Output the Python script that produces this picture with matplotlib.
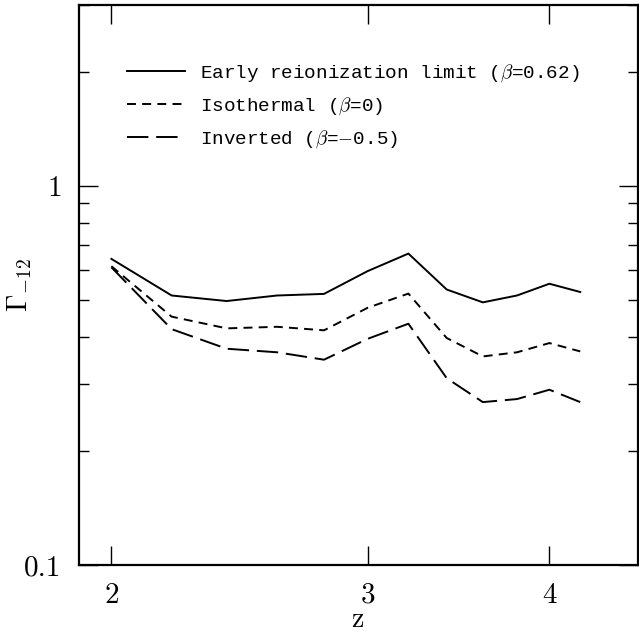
import matplotlib
matplotlib.use("Agg")
import matplotlib.pyplot as plt
from matplotlib.ticker import FixedLocator, NullFormatter, NullLocator

plt.rcParams['font.family'] = 'serif'
plt.rcParams['font.serif'] = ['cmr10', 'DejaVu Serif']
plt.rcParams['mathtext.fontset'] = 'cm'
plt.rcParams['axes.unicode_minus'] = False

# redshift grid and photoionization rates
z = [2.0, 2.2, 2.4, 2.6, 2.8, 3.0, 3.2, 3.4, 3.6, 3.8, 4.0, 4.2]
gamma_early = [0.642, 0.514, 0.497, 0.514, 0.519, 0.596, 0.663, 0.533, 0.493, 0.514, 0.552, 0.525]
gamma_iso = [0.614, 0.452, 0.421, 0.425, 0.416, 0.477, 0.520, 0.397, 0.355, 0.364, 0.385, 0.366]
gamma_inv = [0.610, 0.419, 0.372, 0.364, 0.348, 0.395, 0.433, 0.311, 0.269, 0.274, 0.290, 0.269]

labels = [r"Early reionization limit ($\beta$=0.62)",
          r"Isothermal ($\beta$=0)",
          r"Inverted ($\beta$=$-$0.5)"]

x_ticks = [2, 3, 4]
y_major = [0.1, 1]
y_minor = [0.2, 0.3, 0.4, 0.5, 0.6, 0.7, 0.8, 0.9, 2, 3]

fig = plt.figure(figsize=(6.39, 6.32), dpi=100)
ax = fig.add_axes([0.1236, 0.106, 0.8744, 0.886])

lw = 1.4
ax.plot(z, gamma_early, color='black', lw=lw, label=labels[0])
ax.plot(z, gamma_iso, color='black', lw=lw, linestyle=(0, (4.6, 3.2)), label=labels[1])
ax.plot(z, gamma_inv, color='black', lw=lw, linestyle=(0, (11, 4)), label=labels[2])

ax.set_xscale('log')
ax.set_yscale('log')
ax.set_xlim(1.9, 4.6)
ax.set_ylim(0.1, 3.0)

ax.xaxis.set_major_locator(FixedLocator(x_ticks))
ax.xaxis.set_minor_locator(NullLocator())
ax.set_xticklabels([str(t) for t in x_ticks])
ax.xaxis.set_minor_formatter(NullFormatter())

ax.yaxis.set_major_locator(FixedLocator(y_major))
ax.yaxis.set_minor_locator(FixedLocator(y_minor))
ax.set_yticklabels(['0.1', '1'])
ax.yaxis.set_minor_formatter(NullFormatter())

ax.tick_params(which='both', direction='in', top=True, right=True, width=1.0, labelsize=21)
ax.tick_params(which='major', length=13.5, pad=12.5)
ax.tick_params(which='minor', length=7)
for sp in ax.spines.values():
    sp.set_linewidth(1.6)

ax.set_xlabel('z', fontsize=20)
ax.xaxis.set_label_coords(0.498, -0.075)
ax.set_ylabel(r'$\Gamma_{-12}$', fontsize=20)
ax.yaxis.set_label_coords(-0.08, 0.5)

ax.legend(loc='upper left', bbox_to_anchor=(0.086, 0.897), frameon=False,
          prop={'family': 'Liberation Mono', 'size': 13.9}, borderpad=0, borderaxespad=0,
          handlelength=3.0, handletextpad=0.78, labelspacing=0.59)

fig.savefig('out.png', dpi=100)
